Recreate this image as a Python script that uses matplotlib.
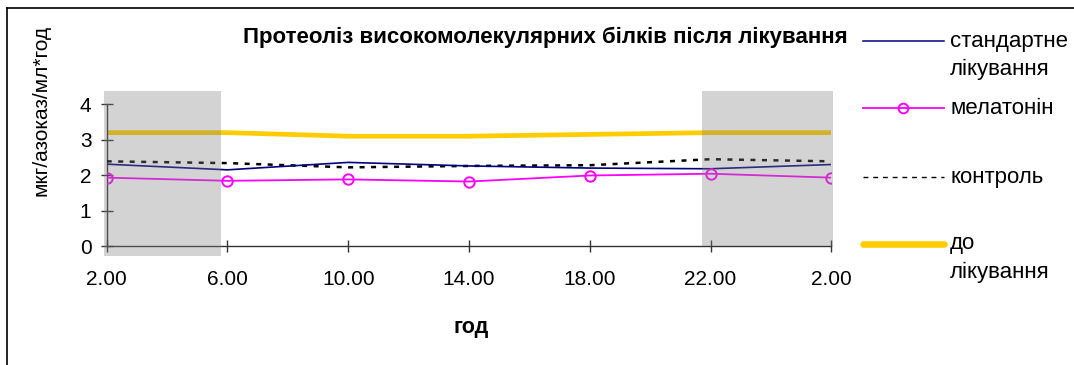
import matplotlib
matplotlib.use("Agg")
import matplotlib.pyplot as plt
from matplotlib.patches import Rectangle
from matplotlib.lines import Line2D

plt.rcParams['font.family'] = ['Liberation Sans', 'DejaVu Sans']

# --- data -------------------------------------------------------------
hours = ["2.00", "6.00", "10.00", "14.00", "18.00", "22.00", "2.00"]
standard = [2.31, 2.15, 2.36, 2.26, 2.20, 2.18, 2.30]
melatonin = [1.93, 1.84, 1.88, 1.82, 1.99, 2.04, 1.93]
control = [2.39, 2.34, 2.22, 2.26, 2.28, 2.45, 2.39]
before = [3.20, 3.20, 3.10, 3.10, 3.15, 3.20, 3.20]

title = "Протеоліз високомолекулярних білків після лікування"
ylabel = "мкг/азоказ/мл*год"
xlabel = "год"
labels = ["стандартне\nлікування", "мелатонін", "контроль", "до\nлікування"]

W, H = 1074, 365
fig = plt.figure(figsize=(W / 100, H / 100), dpi=100)
fig.patch.set_facecolor("white")

def fx(px):
    return px / W

def fy(py):
    return 1 - py / H

ax = fig.add_axes([fx(106.7), fy(246), fx(831.3) - fx(106.7), fy(104.3) - fy(246)])
ax.set_facecolor("none")

x = list(range(len(hours)))
ax.plot(x, before, color="#FFCC00", lw=3.4, solid_capstyle="butt", zorder=2)
ax.plot(x, control, color="black", lw=1.8, dashes=(2.0, 2.6), zorder=3)
ax.plot(x, standard, color="#000080", lw=1.2, zorder=4)
ax.plot(x, melatonin, color="#FF00FF", lw=1.3, marker="o", ms=7.5,
        mfc="none", mec="#FF00FF", mew=1.4, zorder=5)

# night-time shading laid over the curves
ax.add_patch(Rectangle((-0.02, -0.28), 0.964, 4.66, facecolor="#808080",
                       alpha=0.34, edgecolor="none", clip_on=False, zorder=6))
ax.add_patch(Rectangle((4.93, 0.0), 1.08, 4.38, facecolor="#808080",
                       alpha=0.34, edgecolor="none", clip_on=False, zorder=6))

ax.set_xlim(0, 6)
ax.set_ylim(0, 4)
ax.set_xticks(x)
ax.set_xticklabels(hours)
ax.set_yticks([0, 1, 2, 3, 4])
for s in ("top", "right"):
    ax.spines[s].set_visible(False)
for s in ("left", "bottom"):
    ax.spines[s].set_color("#333333")
    ax.spines[s].set_linewidth(1.0)
ax.tick_params(axis="both", direction="inout", length=8, width=1.0,
               color="#333333", labelsize=15)
ax.tick_params(axis="y", pad=7)
ax.tick_params(axis="x", pad=13)

fig.text(fx(545), fy(37), title, ha="center", va="center",
         fontsize=16, fontweight="bold")
fig.text(fx(41), fy(110), ylabel, ha="center", va="center",
         rotation=90, fontsize=15)
fig.text(fx(471), fy(327), xlabel, ha="center", va="center",
         fontsize=15.5, fontweight="bold")

# legend keys drawn at the right of the plot
x0, x1 = fx(863), fx(944)
tx = fx(950)
key_rows = [41, 108, 177, 244]
fig.add_artist(Line2D([x0, x1], [fy(41)] * 2, color="#000080", lw=1.1))
fig.add_artist(Line2D([x0, x1], [fy(108)] * 2, color="#FF00FF", lw=1.3))
fig.add_artist(Line2D([fx(903)], [fy(108)], color="#FF00FF", marker="o",
                      ms=7, mfc="none", mew=1.4))
fig.add_artist(Line2D([x0, x1], [fy(177)] * 2, color="black", lw=1.0,
                      dashes=(3.5, 3.5)))
fig.add_artist(Line2D([x0, x1], [fy(244)] * 2, color="#FFCC00",
                      lw=4.8, solid_capstyle="round"))
for row, lab in zip(key_rows, labels):
    first, *rest = lab.split("\n")
    fig.text(tx, fy(row), first, ha="left", va="center", fontsize=16)
    for k, extra in enumerate(rest, start=1):
        fig.text(tx, fy(row + 28 * k), extra, ha="left", va="center", fontsize=16)

# outer frame
fig.add_artist(Line2D([fx(7), 1.0], [fy(8), fy(8)], color="black", lw=1.2))
fig.add_artist(Line2D([fx(7), fx(7)], [fy(8), 0.0], color="black", lw=1.2))

fig.savefig("out.png", dpi=100)
